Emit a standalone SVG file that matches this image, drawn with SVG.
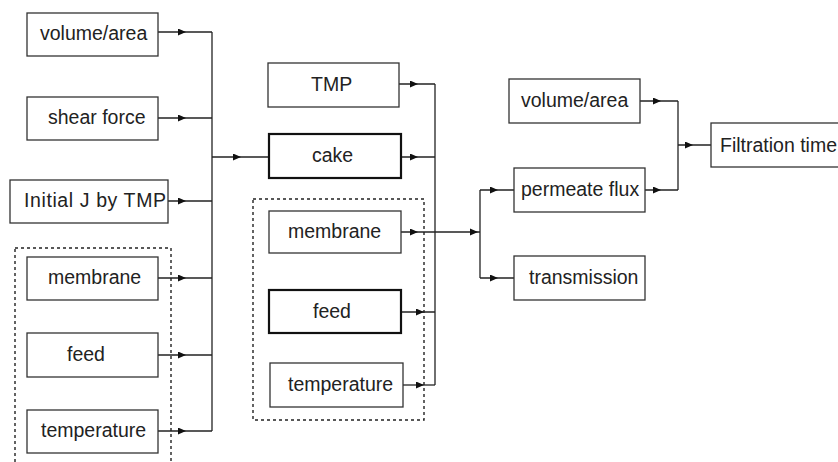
<svg xmlns="http://www.w3.org/2000/svg" width="838" height="462" viewBox="0 0 838 462">
<defs>
<style>
.box{fill:#fff;stroke:#333;stroke-width:1.3}
.thick{fill:#fff;stroke:#111;stroke-width:2.2}
.dot{fill:none;stroke:#222;stroke-width:1.4;stroke-dasharray:3,3}
.ln{fill:none;stroke:#222;stroke-width:1.3;marker-mid:url(#ah)}
.bus{fill:none;stroke:#222;stroke-width:1.3}
text{font-family:"Liberation Sans",Arial,sans-serif;font-size:19.5px;fill:#222}
</style>
<marker id="ah" viewBox="0 0 8 7" refX="8" refY="3.5" markerWidth="8" markerHeight="7" markerUnits="userSpaceOnUse" orient="auto">
<path d="M0,0 L8,3.5 L0,7 z" fill="#111"/>
</marker>
</defs>
<rect width="838" height="462" fill="#fff"/>
<g id="groups">
<rect class="dot" x="15" y="248" width="156" height="230"/>
<rect class="dot" x="253" y="199" width="171" height="221"/>
</g>
<g id="connectors">
<path class="ln" d="M158,32 L186,32 L212,32"/>
<path class="ln" d="M158,118 L186,118 L212,118"/>
<path class="ln" d="M168,201 L186,201 L212,201"/>
<path class="ln" d="M158,278 L186,278 L212,278"/>
<path class="ln" d="M158,355 L186,355 L212,355"/>
<path class="ln" d="M158,431 L186,431 L212,431"/>
<path class="bus" d="M212,32 L212,431"/>
<path class="ln" d="M212,157 L241,157 L269,157"/>
<path class="ln" d="M399,84 L418,84 L435,84"/>
<path class="ln" d="M401,157 L418,157 L435,157"/>
<path class="ln" d="M401,232 L418,232 L480,232"/>
<path d="M470,228.5 L478,232 L470,235.5 z" fill="#111"/>
<path class="ln" d="M401,312 L424,312 L435,312"/>
<path class="ln" d="M403,385 L424,385 L435,385"/>
<path class="bus" d="M435,84 L435,385"/>
<path class="bus" d="M480,190 L480,278"/>
<path class="ln" d="M480,190 L498,190 L514,190"/>
<path class="ln" d="M480,278 L498,278 L514,278"/>
<path class="ln" d="M640,101 L661,101 L678,101"/>
<path class="ln" d="M645,190 L661,190 L678,190"/>
<path class="bus" d="M678,101 L678,190"/>
<path class="ln" d="M678,145 L693,145 L711,145"/>
</g>
<g id="n-volume-area-left"><rect class="box" x="27" y="13" width="131" height="43"/><text x="40" y="40">volume/area</text></g>
<g id="n-shear-force"><rect class="box" x="27" y="97" width="131" height="43"/><text x="48" y="124">shear force</text></g>
<g id="n-initial-j"><rect class="box" x="10" y="180" width="158" height="43"/><text x="24" y="207" textLength="142">Initial J by TMP</text></g>
<g id="n-membrane-left"><rect class="box" x="27" y="257" width="131" height="43"/><text x="48" y="284">membrane</text></g>
<g id="n-feed-left"><rect class="box" x="27" y="333" width="131" height="44"/><text x="67" y="361">feed</text></g>
<g id="n-temperature-left"><rect class="box" x="27" y="410" width="131" height="43"/><text x="41" y="437">temperature</text></g>
<g id="n-tmp"><rect class="box" x="268" y="63" width="131" height="44"/><text x="311" y="91">TMP</text></g>
<g id="n-cake"><rect class="thick" x="269" y="134" width="132" height="44"/><text x="312" y="162">cake</text></g>
<g id="n-membrane-mid"><rect class="box" x="269" y="211" width="132" height="42"/><text x="288" y="238">membrane</text></g>
<g id="n-feed-mid"><rect class="thick" x="269" y="290" width="132" height="43"/><text x="313" y="318">feed</text></g>
<g id="n-temperature-mid"><rect class="box" x="270" y="363" width="133" height="44"/><text x="288" y="391">temperature</text></g>
<g id="n-volume-area-right"><rect class="box" x="509" y="79" width="131" height="44"/><text x="521" y="107">volume/area</text></g>
<g id="n-permeate-flux"><rect class="box" x="514" y="168" width="131" height="44"/><text x="521" y="196">permeate flux</text></g>
<g id="n-transmission"><rect class="box" x="514" y="256" width="131" height="44"/><text x="529" y="284">transmission</text></g>
<g id="n-filtration-time"><rect class="box" x="711" y="123" width="140" height="44"/><text x="720" y="152">Filtration time</text></g>
</svg>
